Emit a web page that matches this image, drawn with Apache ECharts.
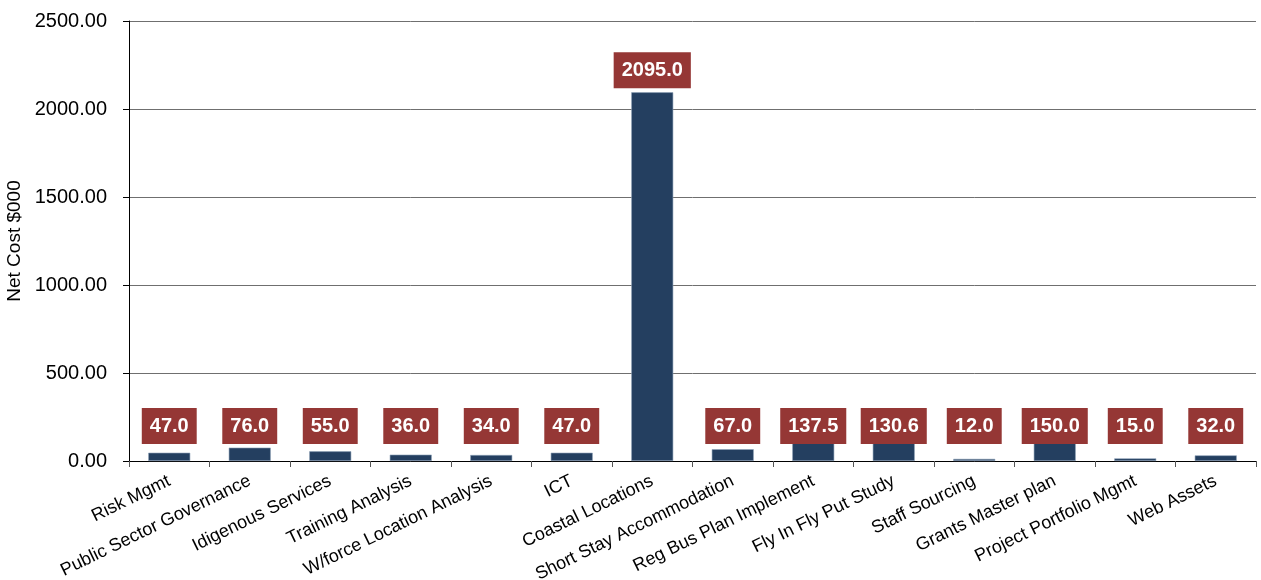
<!DOCTYPE html>
<html>
<head>
<meta charset="utf-8">
<script src="https://cdn.jsdelivr.net/npm/echarts@6/dist/echarts.min.js"></script>
<style>html,body{margin:0;padding:0;background:#fff}#c{width:1261px;height:580px}</style>
</head>
<body>
<div id="c"></div>
<script>
const categories = ['Risk Mgmt','Public Sector Governance','Idigenous Services','Training Analysis','W/force Location Analysis','ICT','Coastal Locations','Short Stay Accommodation','Reg Bus Plan Implement','Fly In Fly Put Study','Staff Sourcing','Grants Master plan','Project Portfolio Mgmt','Web Assets'];
const netCost = [47.0, 76.0, 55.0, 36.0, 34.0, 47.0, 2095.0, 67.0, 137.5, 130.6, 12.0, 150.0, 15.0, 32.0];
const yTicks = {min: 0, max: 2500, interval: 500};

const FONT = '"Liberation Sans", Arial, sans-serif';
const chart = echarts.init(document.getElementById('c'));

const barData = netCost.map(v => ({
  value: v,
  label: v > 1000 ? {position: 'top', distance: 4} : {position: 'insideBottom', distance: 17}
}));

chart.setOption({
  animation: false,
  grid: {left: 129, right: 5, top: 21, bottom: 119, containLabel: false, outerBoundsMode: 'none'},
  xAxis: {
    type: 'category', data: categories, boundaryGap: true,
    axisLine: {show: true, lineStyle: {color: '#000', width: 1}},
    axisTick: {show: true, length: 6, lineStyle: {color: '#555'}},
    axisLabel: {interval: 0, rotate: 26, fontFamily: FONT, fontSize: 18, color: '#000', margin: 19}
  },
  yAxis: {
    type: 'value', min: yTicks.min, max: yTicks.max, interval: yTicks.interval,
    name: 'Net Cost $000', nameLocation: 'middle', nameGap: 99,
    nameTextStyle: {fontFamily: FONT, fontSize: 19, color: '#000'},
    axisLine: {show: true, lineStyle: {color: '#000', width: 1}},
    axisTick: {show: true, length: 6, lineStyle: {color: '#000'}},
    axisLabel: {margin: 22, fontFamily: FONT, fontSize: 20, color: '#000', formatter: v => v.toFixed(2)},
    splitLine: {show: true, lineStyle: {color: '#6f6f6f', width: 1}}
  },
  series: [{
    type: 'bar', data: barData, barWidth: 42,
    itemStyle: {color: '#243F60', borderColor: '#8fa2b8', borderWidth: 0.6},
    label: {
      show: true, formatter: p => p.value.toFixed(1),
      fontFamily: FONT, fontSize: 20, fontWeight: 'bold', color: '#fff',
      backgroundColor: '#953735', padding: [8, 8, 8, 8], lineHeight: 20
    }
  }]
});
</script>
</body>
</html>
